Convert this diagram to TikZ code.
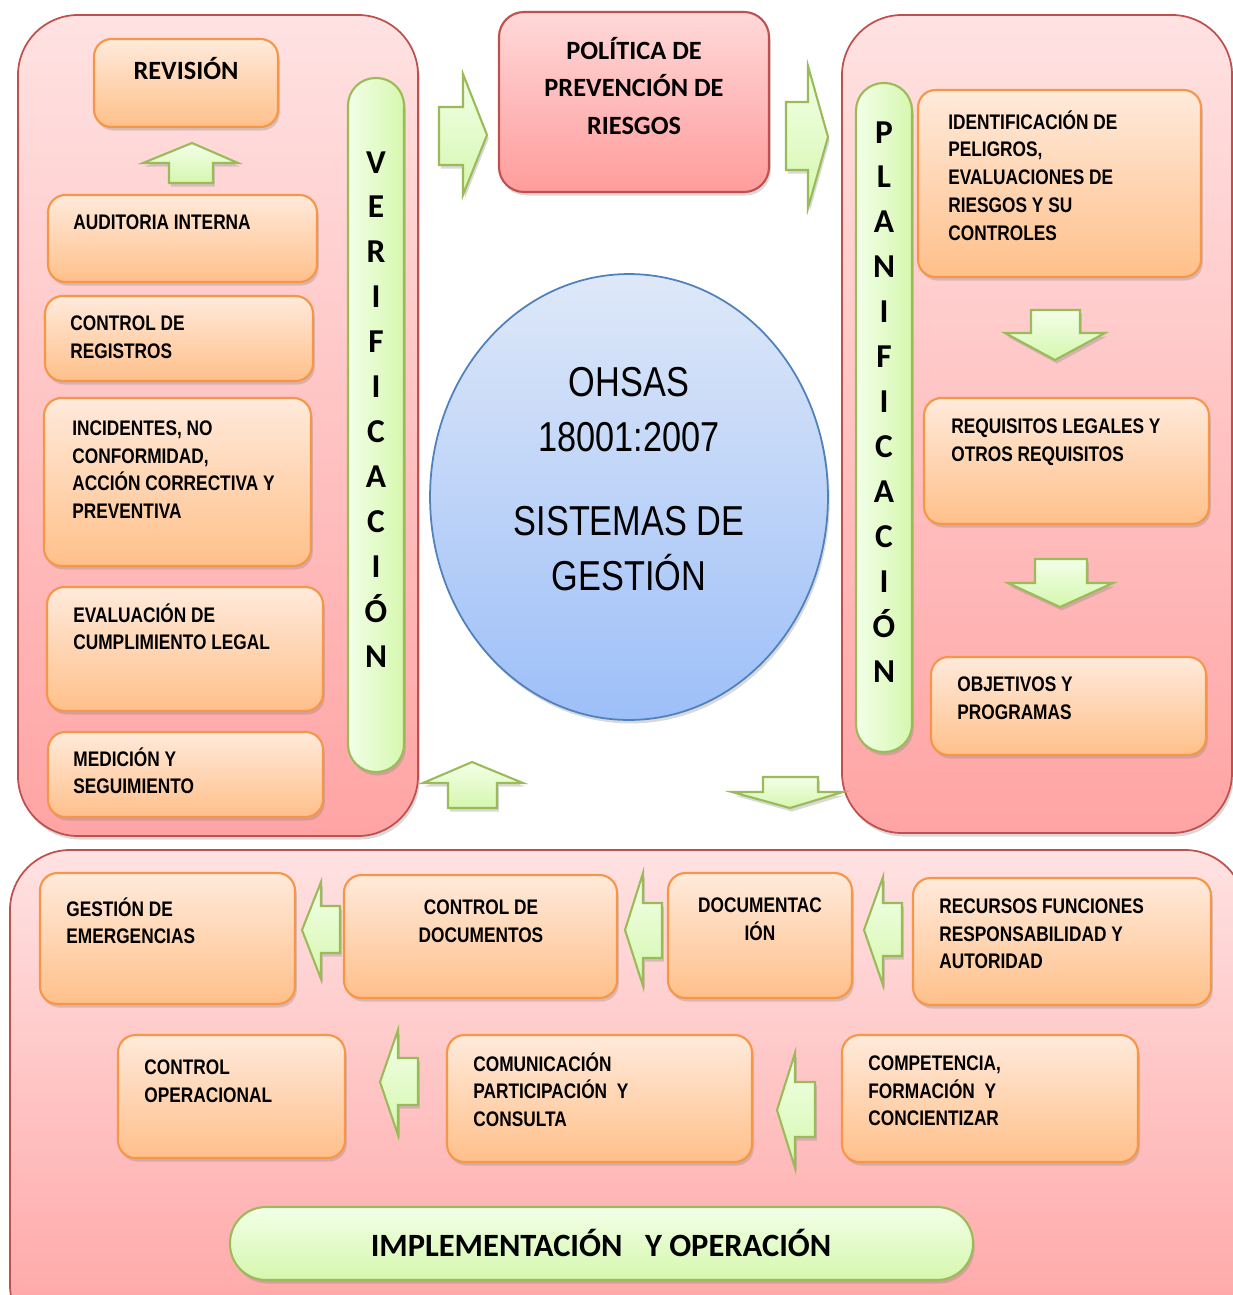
\documentclass[tikz,border=0pt]{standalone}
\usepackage{fontspec}
\setmainfont{Liberation Sans}
\newfontfamily\narrowfont{Liberation Sans}[FakeStretch=0.82]
\newfontfamily\calfont{Carlito}
\usetikzlibrary{fit,shadows,shapes.geometric}
\definecolor{panelline}{HTML}{C0504D}
\definecolor{paneltop}{HTML}{FFE2E2}
\definecolor{panelbot}{HTML}{FFA4A4}
\definecolor{boxline}{HTML}{F79646}
\definecolor{boxtop}{HTML}{FFEADB}
\definecolor{boxbot}{HTML}{FFC08A}
\definecolor{greenline}{HTML}{9BBB59}
\definecolor{greentop}{HTML}{F2FFE8}
\definecolor{greenbot}{HTML}{D6F7AE}
\definecolor{circline}{HTML}{4F81BD}
\definecolor{circtop}{HTML}{DEE8F8}
\definecolor{circbot}{HTML}{9DBFF8}
\definecolor{poltop}{HTML}{FFD8D8}
\definecolor{polbot}{HTML}{FF9C9C}
\begin{document}
\begin{tikzpicture}[x = 0.02cm, y = -0.02cm,
        shadowed/.style = {drop shadow = {shadow xshift = 1pt, shadow yshift = -2pt, opacity = 0.3}},
        panel/.style = {draw = panelline, line width = 1pt, rounded corners = 1.2cm, top color = paneltop, bottom color = panelbot, inner sep = 0pt, shadowed},
        box/.style = {draw = boxline, line width = 1.2pt, rounded corners = 0.35cm, top color = boxtop, bottom color = boxbot, inner sep = 0pt, shadowed},
        pill/.style = {draw = greenline, line width = 1.2pt, rounded corners = 0.55cm, left color = greentop, right color = greenbot, inner sep = 0pt, shadowed},
        blockarrow/.style = {draw = greenline, line width = 1.2pt, top color = greentop, bottom color = greenbot, line join = miter, shadowed},
        txt/.style = {anchor = north west, inner sep = 0pt, align = left, font = \narrowfont\bfseries\fontsize{12}{15.9}\selectfont, execute at begin node = \strut},
        letters/.style = {anchor = north, inner sep = 0pt, align = center, font = \calfont\bfseries\fontsize{19}{25.6}\selectfont, execute at begin node = \strut}]
    \useasboundingbox (0, 0) rectangle (1233, 1295);

    % panels
    \node[panel, fit = {(18, 15) (418, 836)}] (verif) {};
    \node[panel, fit = {(842, 15) (1232, 833)}] (plan) {};
    \node[panel, fit = {(10, 850) (1245, 1345)}] (impl) {};

    % policy and centre
    \node[draw = panelline, line width = 1.2pt, rounded corners = 0.5cm, top color = poltop, bottom color = polbot, inner sep = 0pt, shadowed,
        fit = {(499, 12) (769, 192)}] (pol) {};
    \node[anchor = north, inner sep = 0pt, align = center, font = \calfont\bfseries\fontsize{15}{21.3}\selectfont, execute at begin node = \strut]
        (polt) at (634, 37) {POLÍTICA DE\\PREVENCIÓN DE\\RIESGOS};
    \node[ellipse, draw = circline, line width = 1pt, top color = circtop, bottom color = circbot, shadowed,
        minimum width = 7.96cm, minimum height = 8.92cm, inner sep = 0pt] (ohsas) at (629, 497) {};
    \node[anchor = north, inner sep = 0pt, align = center, font = \narrowfont\fontsize{23.8}{31.3}\selectfont, execute at begin node = \strut]
        (ohsast) at (629, 367) {OHSAS\\18001:2007\\[0.58cm]SISTEMAS DE\\GESTIÓN};

    % verificacion
    \node[box, fit = {(94, 39) (278, 127)}] (rev) {};
    \node[anchor = base, inner sep = 0pt, font = \calfont\bfseries\fontsize{15}{18}\selectfont] (revt) at (186, 79) {REVISIÓN};
    \node[box, fit = {(48, 195) (317, 282)}] (aud) {};
    \node[txt] (audt) at (73, 210) {AUDITORIA INTERNA};
    \node[box, fit = {(45, 296) (313, 381)}] (reg) {};
    \node[txt] (regt) at (70, 315) {CONTROL DE\\REGISTROS};
    \node[box, fit = {(44, 398) (311, 566)}] (inc) {};
    \node[txt] (inct) at (72, 420) {INCIDENTES, NO\\CONFORMIDAD,\\ACCIÓN CORRECTIVA Y\\PREVENTIVA};
    \node[box, fit = {(47, 587) (323, 711)}] (eva) {};
    \node[txt] (evat) at (73, 603) {EVALUACIÓN DE\\CUMPLIMIENTO LEGAL};
    \node[box, fit = {(48, 732) (323, 817)}] (med) {};
    \node[txt] (medt) at (73, 747) {MEDICIÓN Y\\SEGUIMIENTO};
    \node[pill, fit = {(348, 78) (404, 772)}] (vpill) {};
    \node[letters] (vtxt) at (376, 151) {V\\E\\R\\I\\F\\I\\C\\A\\C\\I\\Ó\\N};

    % planificacion
    \node[pill, fit = {(856, 83) (912, 752)}] (ppill) {};
    \node[letters] (ptxt) at (884, 121) {P\\L\\A\\N\\I\\F\\I\\C\\A\\C\\I\\Ó\\N};
    \node[box, fit = {(918, 90) (1201, 277)}] (ide) {};
    \node[txt] (idet) at (948, 110) {IDENTIFICACIÓN DE\\PELIGROS,\\EVALUACIONES DE\\RIESGOS Y SU\\CONTROLES};
    \node[box, fit = {(924, 398) (1209, 524)}] (req) {};
    \node[txt] (reqt) at (951, 418) {REQUISITOS LEGALES Y\\OTROS REQUISITOS};
    \node[box, fit = {(931, 657) (1206, 755)}] (obj) {};
    \node[txt] (objt) at (957, 676) {OBJETIVOS Y\\PROGRAMAS};

    % implementacion
    \node[box, fit = {(40, 873) (295, 1004)}] (eme) {};
    \node[txt] (emet) at (66, 897) {GESTIÓN DE\\EMERGENCIAS};
    \node[box, fit = {(344, 875) (617, 998)}] (doc) {};
    \node[txt, anchor = north, align = center] (doct) at (481, 899) {CONTROL DE\\DOCUMENTOS};
    \node[box, fit = {(668, 873) (852, 998)}] (dcm) {};
    \node[txt, anchor = north, align = center] (dcmt) at (760, 897) {DOCUMENTAC\\IÓN};
    \node[box, fit = {(913, 878) (1211, 1005)}] (rec) {};
    \node[txt] (rect) at (939, 898) {RECURSOS FUNCIONES\\RESPONSABILIDAD Y\\AUTORIDAD};
    \node[box, fit = {(118, 1035) (345, 1158)}] (ope) {};
    \node[txt] (opet) at (144, 1059) {CONTROL\\OPERACIONAL};
    \node[box, fit = {(447, 1035) (752, 1162)}] (com) {};
    \node[txt] (comt) at (473, 1052) {COMUNICACIÓN\\PARTICIPACIÓN\ \ Y\\CONSULTA};
    \node[box, fit = {(842, 1035) (1138, 1162)}] (cpt) {};
    \node[txt] (cptt) at (868, 1055) {COMPETENCIA,\\FORMACIÓN\ \ Y\\CONCIENTIZAR};
    \node[draw = greenline, line width = 1.2pt, rounded corners = 0.72cm, top color = greentop, bottom color = greenbot, inner sep = 0pt, shadowed,
        fit = {(230, 1207) (973, 1280)}] (bar) {};
    \node[anchor = base, inner sep = 0pt, font = \calfont\bfseries\fontsize{18.5}{22}\selectfont]
        (bart) at (601, 1256) {IMPLEMENTACIÓN\hspace{0.45cm}Y OPERACIÓN};

    % block arrows
    \draw[blockarrow] (487, 135) -- (463, 74) -- (463, 107) -- (439, 107) -- (439, 165) -- (463, 165) -- (463, 195) -- cycle;
    \draw[blockarrow] (828, 137) -- (808, 66) -- (808, 102) -- (786, 102) -- (786, 170) -- (808, 170) -- (808, 208) -- cycle;
    \draw[blockarrow] (192, 143) -- (143, 163) -- (169, 163) -- (169, 183) -- (213, 183) -- (213, 163) -- (238, 163) -- cycle;
    \draw[blockarrow] (472, 762) -- (423, 783) -- (448, 783) -- (448, 808) -- (497, 808) -- (497, 783) -- (523, 783) -- cycle;
    \draw[blockarrow] (790, 808) -- (732, 792) -- (763, 792) -- (763, 777) -- (818, 777) -- (818, 792) -- (843, 792) -- cycle;
    \draw[blockarrow] (1055, 360) -- (1005, 333) -- (1031, 333) -- (1031, 310) -- (1080, 310) -- (1080, 333) -- (1105, 333) -- cycle;
    \draw[blockarrow] (1060, 607) -- (1008, 583) -- (1035, 583) -- (1035, 559) -- (1087, 559) -- (1087, 583) -- (1113, 583) -- cycle;
    \draw[blockarrow] (302, 930) -- (321, 882) -- (321, 906) -- (340, 906) -- (340, 953) -- (321, 953) -- (321, 979) -- cycle;
    \draw[blockarrow] (625, 930) -- (643, 873) -- (643, 903) -- (662, 903) -- (662, 958) -- (643, 958) -- (643, 986) -- cycle;
    \draw[blockarrow] (864, 930) -- (883, 877) -- (883, 903) -- (902, 903) -- (902, 956) -- (883, 956) -- (883, 985) -- cycle;
    \draw[blockarrow] (380, 1082) -- (398, 1030) -- (398, 1058) -- (418, 1058) -- (418, 1105) -- (398, 1105) -- (398, 1135) -- cycle;
    \draw[blockarrow] (777, 1110) -- (795, 1053) -- (795, 1082) -- (815, 1082) -- (815, 1137) -- (795, 1137) -- (795, 1168) -- cycle;
\end{tikzpicture}
\end{document}
